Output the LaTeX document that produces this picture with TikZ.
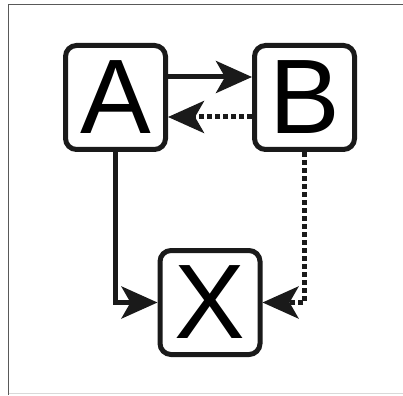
\documentclass[tikz,border=0pt]{standalone}
\usepackage{fontspec}
\setmainfont{Liberation Sans}
\usetikzlibrary{arrows.meta}
\begin{document}
\begin{tikzpicture}[x=1pt,y=-1pt,
  box/.style={draw=ink,line width=5pt,rounded corners=11pt,minimum width=100pt,minimum height=104pt,inner sep=0pt,font=\fontsize{106}{106}\selectfont},
  conn/.style={draw=ink,line width=5pt,-{Stealth[length=36pt,width=32pt,inset=9pt]}},
  dotline/.style={conn,dash pattern=on 5pt off 3pt}]
\definecolor{ink}{HTML}{1A1A1A}
\useasboundingbox (0,0) rectangle (403,395);
\fill[white] (0,0) rectangle (403,395);
\draw[gray!70!black,line width=1.6pt] (8.5,395) -- (8.5,4.5) -- (403,4.5);
\draw[gray!30,line width=1.4pt] (8.5,393.5) -- (403,393.5);
\node[box] (A) at (115.5,97.5) {A};
\node[box] (B) at (304.5,97.5) {B};
\node[box] (X) at (210,302.5) {X};
\draw[conn] ([yshift=20.5pt]A.east) -- ([yshift=20.5pt]B.west);
\draw[dotline] ([yshift=-19.5pt]B.west) -- ([yshift=-19.5pt]A.east);
\draw[conn] (A.south) |- (X.west);
\draw[dotline] (B.south) |- (X.east);
\end{tikzpicture}
\end{document}
